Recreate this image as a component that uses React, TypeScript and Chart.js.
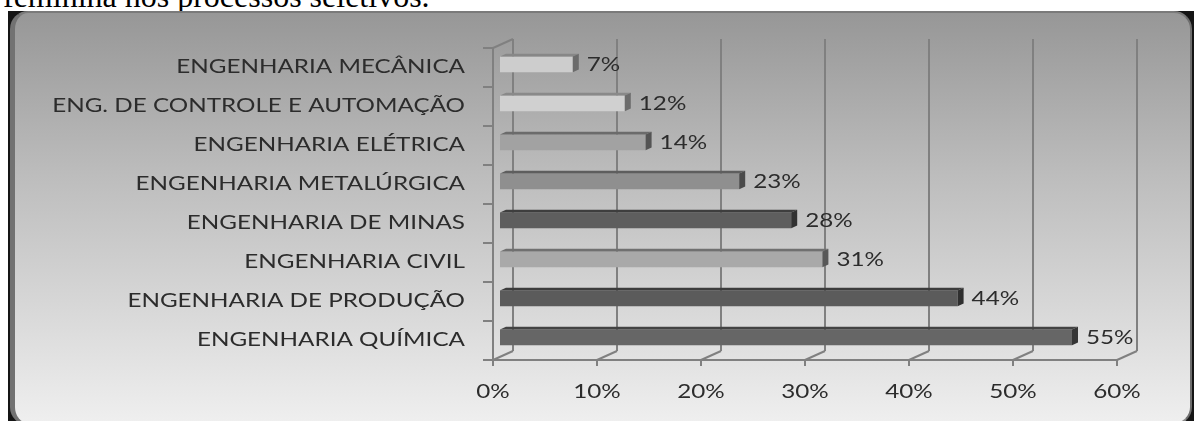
import React, { useEffect, useRef } from "react";
import { Chart, registerables } from "chart.js";

Chart.register(...registerables);

// Courses, top to bottom, and the share for each one (in %)
const categories = [
  "ENGENHARIA MECÂNICA",
  "ENG. DE CONTROLE E AUTOMAÇÃO",
  "ENGENHARIA ELÉTRICA",
  "ENGENHARIA METALÚRGICA",
  "ENGENHARIA DE MINAS",
  "ENGENHARIA CIVIL",
  "ENGENHARIA DE PRODUÇÃO",
  "ENGENHARIA QUÍMICA",
];
const percentages = [7, 12, 14, 23, 28, 31, 44, 55];
const barColors = ["#cdcdcd", "#d0d0d0", "#a2a2a2", "#8f8f8f", "#5e5e5e", "#a9a9a9", "#5b5b5b", "#666666"];
const tickValues = [0, 10, 20, 30, 40, 50, 60];

// Pseudo-3D geometry: depth vector of the floor / side wall
const DEPTH_X = 20;
const DEPTH_Y = -9;
const BAR_PLANE = 0.35; // where the bar fronts sit inside the depth
const BAR_DEPTH = 0.3; // thickness of each bar along the depth

const FONT = "18.5px Lato";
const TEXT_STRETCH = 1.31;
const TEXT_COLOR = "#2c2c2c";
const LINE_COLOR = "#808080";

function shade(hex: string, f: number): string {
  const n = parseInt(hex.slice(1), 16);
  const r = Math.round(((n >> 16) & 255) * f);
  const g = Math.round(((n >> 8) & 255) * f);
  const b = Math.round((n & 255) * f);
  return `rgb(${r},${g},${b})`;
}

function wideText(ctx: CanvasRenderingContext2D, text: string, x: number, y: number, align: CanvasTextAlign) {
  ctx.save();
  ctx.translate(x, y);
  ctx.scale(TEXT_STRETCH, 1);
  ctx.font = FONT;
  ctx.fillStyle = TEXT_COLOR;
  ctx.textAlign = align;
  ctx.textBaseline = "middle";
  ctx.fillText(text, 0, 0);
  ctx.restore();
}

function line(ctx: CanvasRenderingContext2D, x1: number, y1: number, x2: number, y2: number) {
  ctx.beginPath();
  ctx.moveTo(x1, y1);
  ctx.lineTo(x2, y2);
  ctx.stroke();
}

const frame3d = {
  id: "frame3d",
  beforeDatasetsDraw(chart: any) {
    const { ctx, chartArea } = chart;
    const xs = chart.scales.x;
    const ys = chart.scales.y;
    const fx = -BAR_PLANE * DEPTH_X;
    const fy = -BAR_PLANE * DEPTH_Y;
    const bx = (1 - BAR_PLANE) * DEPTH_X;
    const by = (1 - BAR_PLANE) * DEPTH_Y;
    const top = chartArea.top;
    const bottom = chartArea.bottom;
    const left = xs.getPixelForValue(tickValues[0]);
    const right = xs.getPixelForValue(tickValues[tickValues.length - 1]);

    ctx.save();
    ctx.strokeStyle = LINE_COLOR;
    ctx.lineWidth = 2;

    // back wall gridlines, floor slants and tick marks
    tickValues.forEach((v) => {
      const px = xs.getPixelForValue(v);
      line(ctx, px + bx, top + by, px + bx, bottom + by);
      line(ctx, px + fx, bottom + fy, px + bx, bottom + by);
      line(ctx, px + fx, bottom + fy, px + fx, bottom + fy + 6);
    });

    // front floor edge
    line(ctx, left + fx, bottom + fy, right + fx, bottom + fy);
    // side wall front edge and its top slant
    line(ctx, left + fx, top + fy, left + fx, bottom + fy);
    line(ctx, left + fx, top + fy, left + bx, top + by);

    // category boundary ticks on the vertical axis
    const band = ys.getPixelForValue(1) - ys.getPixelForValue(0);
    for (let i = 0; i <= categories.length; i++) {
      const yy = ys.getPixelForValue(i) - band / 2 + fy;
      line(ctx, left + fx - 10, yy, left + fx, yy);
    }
    ctx.restore();

    // category labels
    categories.forEach((c, i) => {
      wideText(ctx, c, left + fx - 28, ys.getPixelForValue(i) + fy, "right");
    });

    // percent tick labels
    tickValues.forEach((v) => {
      wideText(ctx, `${v}%`, xs.getPixelForValue(v) + fx, bottom + fy + 32, "center");
    });
  },
  afterDatasetsDraw(chart: any) {
    const { ctx } = chart;
    const meta = chart.getDatasetMeta(0);
    const dx = BAR_DEPTH * DEPTH_X;
    const dy = BAR_DEPTH * DEPTH_Y;
    meta.data.forEach((bar: any, i: number) => {
      const { x, y, base, height } = bar.getProps(["x", "y", "base", "height"], true);
      const t = y - height / 2;
      const b = y + height / 2;
      const color = barColors[i];

      // top face
      ctx.beginPath();
      ctx.moveTo(base, t);
      ctx.lineTo(x, t);
      ctx.lineTo(x + dx, t + dy);
      ctx.lineTo(base + dx, t + dy);
      ctx.closePath();
      ctx.fillStyle = shade(color, 0.66);
      ctx.fill();

      // end cap
      ctx.beginPath();
      ctx.moveTo(x, t);
      ctx.lineTo(x + dx, t + dy);
      ctx.lineTo(x + dx, b + dy);
      ctx.lineTo(x, b);
      ctx.closePath();
      ctx.fillStyle = shade(color, 0.52);
      ctx.fill();

      wideText(ctx, `${percentages[i]}%`, x + dx + 8, y + 1, "left");
    });
  },
};

export default function App() {
  const canvasRef = useRef<HTMLCanvasElement | null>(null);

  useEffect(() => {
    if (!canvasRef.current) return;
    const chart = new Chart(canvasRef.current, {
      type: "bar",
      data: {
        labels: categories,
        datasets: [
          {
            data: percentages,
            backgroundColor: barColors,
            borderWidth: 0,
            barPercentage: 0.4,
            categoryPercentage: 1,
          },
        ],
      },
      options: {
        indexAxis: "y",
        responsive: false,
        animation: false,
        events: [],
        layout: { padding: { left: 500, right: 71, top: 44.85, bottom: 64.15 } },
        plugins: { legend: { display: false }, tooltip: { enabled: false } },
        scales: {
          x: { type: "linear", min: 0, max: 60, display: false },
          y: { display: false },
        },
      },
      plugins: [frame3d],
    });
    return () => chart.destroy();
  }, []);

  return (
    <div style={{ position: "fixed", left: 0, top: 0, width: 1195, height: 421, overflow: "hidden", background: "#fff" }}>
      <div
        style={{
          position: "absolute",
          left: 3,
          top: -20,
          fontFamily: "'Liberation Serif', 'Times New Roman', serif",
          fontSize: 32,
          lineHeight: "32px",
          color: "#000",
          whiteSpace: "nowrap",
        }}
      >
        feminina nos processos seletivos.
      </div>
      <div style={{ position: "absolute", left: 8, top: 11, width: 1186, height: 430, background: "#151515" }} />
      <div
        style={{
          position: "absolute",
          left: 10,
          top: 11,
          width: 1182,
          height: 414,
          boxSizing: "border-box",
          borderRadius: 18,
          borderLeft: "5px solid #727272",
          borderTop: "2px solid #7a7a7a",
          borderRight: "2px solid #6e6e6e",
          borderBottom: "2px solid #8a8a8a",
          background: "linear-gradient(to bottom, #979797 0%, #bdbdbd 40%, #efefef 100%)",
        }}
      />
      <canvas ref={canvasRef} width={1195} height={421} style={{ position: "absolute", left: 0, top: 0 }} />
    </div>
  );
}
